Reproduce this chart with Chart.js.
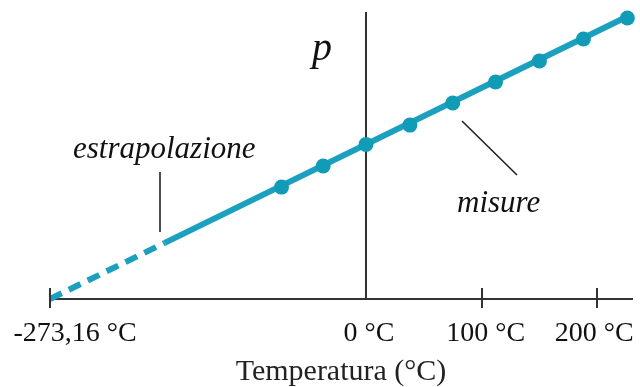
<!DOCTYPE html>
<html>
<head>
<meta charset="utf-8">
<script src="https://cdn.jsdelivr.net/npm/chart.js@4/dist/chart.umd.min.js"></script>
<style>
  html, body { margin: 0; padding: 0; background: #fff; }
  #wrap { width: 640px; height: 387px; position: relative; }
</style>
</head>
<body>
<div id="wrap"><canvas id="gasChart"></canvas></div>
<script>
// ---------- DATA ----------
const measureT = [-73, -37, 0, 38, 75, 112, 150, 188, 226];          // °C
const measureP = [72.4, 86, 100, 112.5, 126.8, 140.4, 154, 168.2, 181.8];

// fitted line: first segment is the extrapolation (dashed)
const fitT = [-273.16, -174, 226];
const fitP = [0, 36.3, 182.7];

const tickValues = [-273.16, 0, 100, 200];
const tickLabels = ["-273,16 °C", "0 °C", "100 °C", "200 °C"];
const tickLabelShift = [25, 3, 4, -3];   // labels aren't exactly centred in the picture

const TEAL = "#1ba1bf";
const AXIS = "#333333";
const SERIF = "'Liberation Serif', 'DejaVu Serif', serif";

// ---------- EXTRA DRAWING ----------
const extrasPlugin = {
    id: "extras",
    afterDraw(chart) {
        const ctx = chart.ctx;
        const xs = chart.scales.x;
        const y0 = chart.scales.y.getPixelForValue(0);

        ctx.save();
        // tick marks crossing the axis
        ctx.strokeStyle = AXIS;
        ctx.lineWidth = 2;
        tickValues.forEach(v => {
            if (v === 0) return;
            const px = Math.round(xs.getPixelForValue(v));
            ctx.beginPath();
            ctx.moveTo(px, y0 - 11);
            ctx.lineTo(px, y0 + 9);
            ctx.stroke();
        });

        // tick labels
        ctx.fillStyle = "#111";
        ctx.font = "28px " + SERIF;
        ctx.textAlign = "center";
        ctx.textBaseline = "alphabetic";
        tickValues.forEach((v, i) => {
            ctx.fillText(tickLabels[i], xs.getPixelForValue(v) + tickLabelShift[i], 341);
        });

        // annotations
        ctx.font = "italic 40px " + SERIF;
        ctx.textAlign = "left";
        ctx.fillText("p", 312, 60);

        ctx.font = "italic 31px " + SERIF;
        ctx.fillText("estrapolazione", 73, 158);
        ctx.fillText("misure", 457, 212);

        // leader lines
        ctx.strokeStyle = "#222";
        ctx.lineWidth = 1.6;
        ctx.beginPath();
        ctx.moveTo(160, 172);
        ctx.lineTo(160, 232);
        ctx.moveTo(462, 121);
        ctx.lineTo(517, 175);
        ctx.stroke();
        ctx.restore();
    }
};

// ---------- CHART ----------
function createChart() {
    const ctx = document.getElementById("gasChart");
    return new Chart(ctx, {
        type: "scatter",
        data: {
            datasets: [
                {
                    label: "misure",
                    data: measureT.map((t, i) => ({ x: t, y: measureP[i] })),
                    showLine: false,
                    pointRadius: 7.5,
                    pointBackgroundColor: "#109bb6",
                    pointBorderWidth: 0,
                    clip: false
                },
                {
                    label: "retta",
                    data: fitT.map((t, i) => ({ x: t, y: fitP[i] })),
                    showLine: true,
                    borderColor: TEAL,
                    borderWidth: 6,
                    pointRadius: 0,
                    segment: {
                        borderDash: c => c.p0DataIndex === 0 ? [13, 8] : undefined
                    },
                    clip: false
                }
            ]
        },
        options: {
            responsive: true,
            maintainAspectRatio: false,
            animation: false,
            layout: { padding: { left: 50, right: 8, top: 13, bottom: 0 } },
            plugins: {
                legend: { display: false },
                tooltip: { enabled: false }
            },
            scales: {
                x: {
                    type: "linear",
                    min: -273.16,
                    max: 230,
                    grid: { display: false },
                    border: { display: true, color: AXIS, width: 2 },
                    ticks: { display: false },
                    title: {
                        display: true,
                        text: "Temperatura (°C)",
                        color: "#222",
                        font: { family: SERIF, size: 30, lineHeight: 1 },
                        padding: { top: 50, bottom: 0 }
                    }
                },
                y: {
                    type: "linear",
                    min: 0,
                    max: 185,
                    position: { x: 0 },
                    grid: { display: false },
                    border: { display: true, color: AXIS, width: 2 },
                    ticks: { display: false }
                }
            }
        },
        plugins: [extrasPlugin]
    });
}

createChart();
</script>
</body>
</html>
